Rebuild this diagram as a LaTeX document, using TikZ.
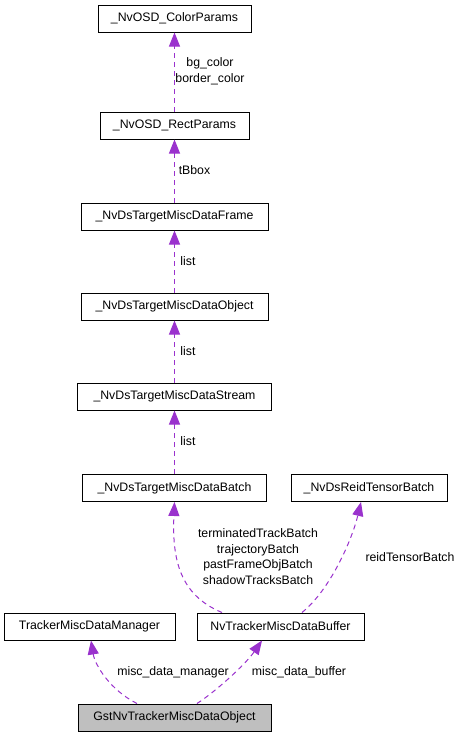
\documentclass[tikz,border=0pt]{standalone}
\usepackage{fontspec}
\setmainfont{Liberation Sans}
\usetikzlibrary{arrows.meta}
\definecolor{edgecol}{HTML}{9A32CD}
\definecolor{grayfill}{HTML}{BFBFBF}
\tikzset{
  box/.style={draw=black, line width=1pt, minimum height=27pt, inner sep=0pt, font=\fontsize{12.3}{15.7}\selectfont},
  edge/.style={draw=edgecol, line width=1pt, dash pattern=on 5pt off 4pt, -{Triangle[length=14pt,width=11pt,fill=edgecol]}},
  lbl/.style={inner sep=0pt, align=center, font=\fontsize{12.3}{15.7}\selectfont}
}
\begin{document}
\begin{tikzpicture}[x=1pt,y=-1pt]
\useasboundingbox (0,0) rectangle (463,736);
\node[box, minimum width=153pt] (cp) at (174.5,18.5) {\_NvOSD\_ColorParams};
\node[box, minimum width=149pt] (rp) at (174.5,125.5) {\_NvOSD\_RectParams};
\node[box, minimum width=187pt] (fr) at (174.5,216.5) {\_NvDsTargetMiscDataFrame};
\node[box, minimum width=187pt] (ob) at (174.5,306.5) {\_NvDsTargetMiscDataObject};
\node[box, minimum width=194pt] (st) at (174.5,396.5) {\_NvDsTargetMiscDataStream};
\node[box, minimum width=184pt] (ba) at (174.5,488) {\_NvDsTargetMiscDataBatch};
\node[box, minimum width=156pt] (re) at (369,488) {\_NvDsReidTensorBatch};
\node[box, minimum width=171pt] (ma) at (89.5,626.5) {TrackerMiscDataManager};
\node[box, minimum width=167pt] (bu) at (280.5,626.5) {NvTrackerMiscDataBuffer};
\node[box, minimum width=193pt, fill=grayfill] (gst) at (174.5,717.5) {GstNvTrackerMiscDataObject};

\draw[edge] (rp.north) -- (cp.south);
\draw[edge] (fr.north) -- (rp.south);
\draw[edge] (ob.north) -- (fr.south);
\draw[edge] (st.north) -- (ob.south);
\draw[edge] (ba.north) -- (st.south);

\coordinate (b1) at ([xshift=-58.5pt]bu.north);
\coordinate (b2) at ([xshift=21.5pt]bu.north);
\coordinate (g1) at ([xshift=-37.5pt]gst.north);
\coordinate (g2) at ([xshift=22.5pt]gst.north);
\coordinate (mae) at ([xshift=1.5pt]ma.south);
\coordinate (bue) at ([xshift=-18.5pt]bu.south);
\coordinate (ree) at ([xshift=-8pt]re.south);

\draw[edge] (b1) .. controls (180,595) and (172,560) .. (ba.south);
\draw[edge] (b2) .. controls (330,590) and (352,540) .. (ree);
\draw[edge] (g1) .. controls (110,690) and (95,665) .. (mae);
\draw[edge] (g2) .. controls (215,692) and (245,665) .. (bue);

\node[lbl] (l1) at (210,71) {bg\_color\\border\_color};
\node[lbl] (l2) at (194.5,170) {tBbox};
\node[lbl] (l3) at (188,261) {list};
\node[lbl] (l4) at (188,351) {list};
\node[lbl] (l5) at (188,441) {list};
\node[lbl] (l6) at (258,556.5) {terminatedTrackBatch\\trajectoryBatch\\pastFrameObjBatch\\shadowTracksBatch};
\node[lbl] (l7) at (410,557) {reidTensorBatch};
\node[lbl] (l8) at (173,672) {misc\_data\_manager};
\node[lbl] (l9) at (299,672) {misc\_data\_buffer};
\end{tikzpicture}
\end{document}
